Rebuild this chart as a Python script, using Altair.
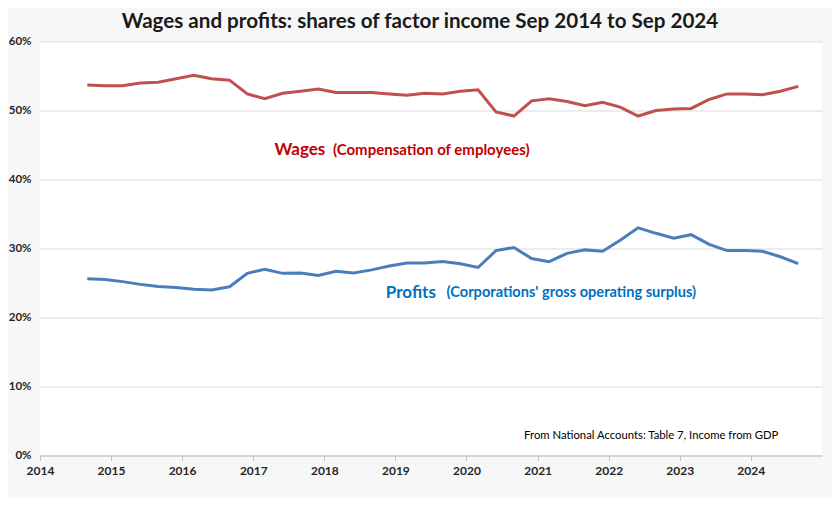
import altair as alt
import pandas as pd

quarters = [d.strftime("%Y-%m-%d") for d in pd.date_range("2014-09-01", periods=41, freq="3MS")]

wages = [53.7, 53.6, 53.6, 54.0, 54.1, 54.6, 55.1, 54.6, 54.4, 52.4, 51.7, 52.5, 52.8, 53.1,
         52.6, 52.6, 52.6, 52.4, 52.2, 52.5, 52.4, 52.8, 53.0, 49.8, 49.2, 51.4, 51.7, 51.3,
         50.7, 51.2, 50.5, 49.2, 50.0, 50.2, 50.3, 51.6, 52.4, 52.4, 52.3, 52.8, 53.5]
profits = [25.6, 25.5, 25.2, 24.8, 24.5, 24.35, 24.1, 24.0, 24.45, 26.4, 27.0, 26.4, 26.45, 26.1,
           26.7, 26.45, 26.9, 27.45, 27.9, 27.9, 28.1, 27.8, 27.25, 29.7, 30.15, 28.55, 28.1, 29.3,
           29.8, 29.6, 31.2, 33.0, 32.2, 31.5, 32.0, 30.6, 29.7, 29.7, 29.6, 28.8, 27.8]

series_names = ["Wages", "Profits"]
series_colors = ["#C0504D", "#4A7EBB"]

rows = []
for q, w, p in zip(quarters, wages, profits):
    rows.append({"date": q, "series": "Wages", "value": w / 100})
    rows.append({"date": q, "series": "Profits", "value": p / 100})
df = pd.DataFrame(rows)

labels = pd.DataFrame([
    {"date": "2017-04-20", "value": 0.443, "text": "Wages", "size": 17, "color": "#C00000"},
    {"date": "2018-02-14", "value": 0.443, "text": "(Compensation of employees)", "size": 15, "color": "#C00000"},
    {"date": "2018-11-13", "value": 0.2355, "text": "Profits", "size": 17, "color": "#0070C0"},
    {"date": "2019-09-21", "value": 0.2355, "text": "(Corporations' gross operating surplus)", "size": 14.6, "color": "#0070C0"},
])
note = pd.DataFrame([{"date": "2024-05-22", "value": 0.028,
                      "text": "From National Accounts: Table 7, Income from GDP"}])

FONT = "Lato"
xscale = alt.Scale(type="utc", domain=[alt.DateTime(year=2014, month=1, date=1, utc=True),
                                       alt.DateTime(year=2025, month=1, date=1, utc=True)])
yscale = alt.Scale(domain=[0, 0.6])

years = [alt.DateTime(year=y, month=1, date=1, utc=True) for y in range(2014, 2025)]

lines = alt.Chart(df).mark_line(strokeWidth=3).encode(
    x=alt.X("date:T", scale=xscale, title=None,
            axis=alt.Axis(values=years, format="%Y", formatType="utc", grid=False,
                          domainColor="#BFBFBF", tickColor="#BFBFBF", tickSize=5,
                          labelFlush=False,
                          labelFont=FONT, labelFontSize=12, labelFontWeight="bold",
                          labelColor="#262626", labelPadding=5)),
    y=alt.Y("value:Q", scale=yscale, title=None,
            axis=alt.Axis(values=[0, 0.1, 0.2, 0.3, 0.4, 0.5, 0.6], format=".0%",
                          domain=False, ticks=False, gridColor="#D9D9D9",
                          labelFont=FONT, labelFontSize=11.5, labelFontWeight="bold",
                          labelColor="#262626", labelPadding=9)),
    color=alt.Color("series:N", scale=alt.Scale(domain=series_names, range=series_colors), legend=None),
)

txt = alt.Chart(labels).mark_text(align="left", baseline="middle", font=FONT, fontWeight="bold").encode(
    x=alt.X("date:T", scale=xscale),
    y=alt.Y("value:Q", scale=yscale),
    text="text:N",
    size=alt.Size("size:Q", scale=None, legend=None),
    color=alt.Color("color:N", scale=None, legend=None),
)

src = alt.Chart(note).mark_text(align="right", baseline="middle", font=FONT, fontSize=11.3, color="#000000").encode(
    x=alt.X("date:T", scale=xscale),
    y=alt.Y("value:Q", scale=yscale),
    text="text:N",
)

chart = alt.layer(lines, txt, src).properties(
    width=782, height=414,
    autosize=alt.AutoSizeParams(type="none"),
    padding={"left": 32, "top": 33.5, "right": 10, "bottom": 42.5},
    background="#F7F7F7",
    title=alt.TitleParams("Wages and profits: shares of factor income Sep 2014 to Sep 2024",
                          font=FONT, fontSize=20.6, fontWeight="bold", color="#1a1a1a",
                          anchor="middle", offset=3, dx=-11),
).configure_view(fill="white", stroke=None)

chart.save("out.html", embed_options={"renderer": "svg", "actions": False})
